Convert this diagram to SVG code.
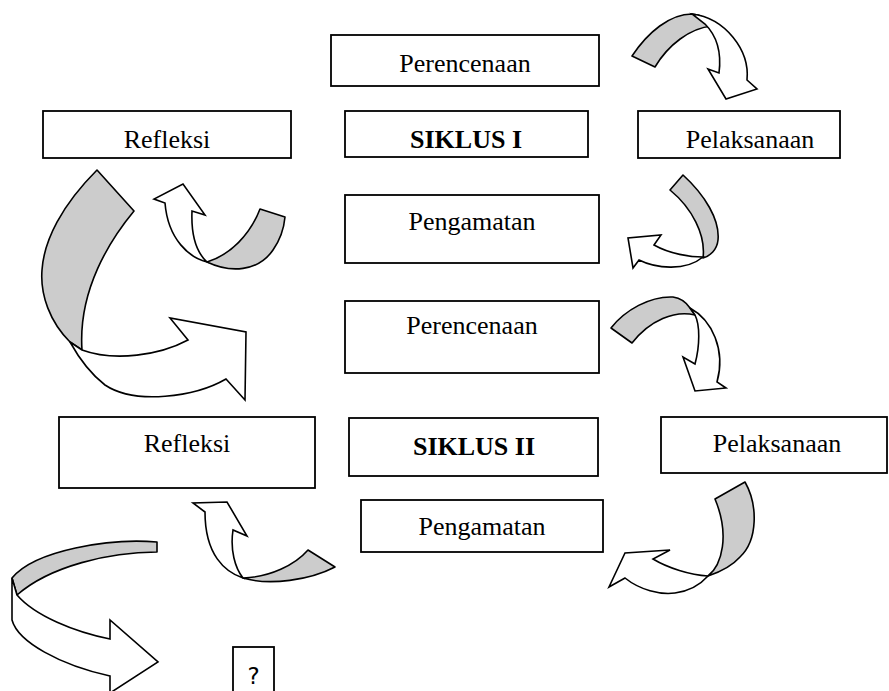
<svg xmlns="http://www.w3.org/2000/svg" width="889" height="691" viewBox="0 0 889 691">
<style>
.box rect{fill:#fff;stroke:#000;stroke-width:1.8}
.box text{font-family:"Liberation Serif","Times New Roman",serif;font-size:26px;text-anchor:middle;fill:#000}
.b{font-weight:bold}
.g{fill:#cccccc;stroke:#000;stroke-width:1.6;stroke-linejoin:round}
.w{fill:#fff;stroke:#000;stroke-width:1.6;stroke-linejoin:miter}
</style>
<rect width="889" height="691" fill="#fff"/>
<g id="connectors">
  <g id="arrowA">
    <path class="g" d="M632,56 C648,32 670,14 692,14 C702,15 709,20 712,26 C690,28 668,45 655,67 Z"/>
    <path class="w" d="M692,14 C725,18 750,50 747,80 L757,89 L726,99 L708,69 L719,73 C722,50 716,35 705,24 Z"/>
  </g>
  <g id="arrowB">
    <path class="g" d="M97,170 L134,211 C110,240 78,290 82,350 L70,342 C50,322 40,295 42,270 C44,240 62,205 97,170 Z"/>
    <path class="w" d="M82,350 C115,362 160,355 188,340 L170,318 L246,332 L245,400 L226,379 C195,397 135,405 105,385 C92,375 80,360 70,342 Z"/>
  </g>
  <g id="arrowC">
    <path class="g" d="M207,262 C230,273 258,272 273,250 C280,240 284,228 285,217 L260,209 C250,235 230,255 207,262 Z"/>
    <path class="w" d="M207,262 C190,258 168,240 165,203 L154,199 L183,184 L205,215 L192,211 C191,235 196,252 207,262 Z"/>
  </g>
  <g id="arrowD">
    <path class="g" d="M670,190 L683,175 C705,195 720,220 718,240 C717,250 710,256 703,258 C706,235 692,208 670,190 Z"/>
    <path class="w" d="M703,257 C690,257 670,254 654,245 L661,235 L628,238 L633,268 L639,260 C655,268 685,272 703,257 Z"/>
  </g>
  <g id="arrowE">
    <path class="g" d="M611,328 C625,310 650,296 673,297 C680,298 686,302 690,308 L695,315 C675,310 650,320 632,343 Z"/>
    <path class="w" d="M690,308 C712,320 726,350 717,382 L726,388 L695,391 L683,357 L695,364 C700,345 700,325 695,315 Z"/>
  </g>
  <g id="arrowF">
    <path class="g" d="M243,578 C270,586 310,580 335,567 L308,550 C295,565 270,577 243,578 Z"/>
    <path class="w" d="M243,578 C225,572 205,555 205,512 L193,503 L227,502 L247,536 L233,530 C230,550 235,568 243,578 Z"/>
  </g>
  <g id="arrowG">
    <path class="g" d="M715,499 L745,482 C758,505 758,540 740,557 C732,566 720,572 708,576 C722,565 730,535 715,499 Z"/>
    <path class="w" d="M708,576 C690,575 668,568 653,559 L670,550 L625,553 L609,587 L625,578 C640,590 660,595 675,593 C690,591 700,585 708,576 Z"/>
  </g>
  <g id="arrowH">
    <path class="g" d="M157,542 L157,552 C110,552 50,566 17,595 L12,578 C35,550 110,538 157,542 Z"/>
    <path class="w" d="M12,578 L12,620 C18,642 60,665 110,676 L110,693 L158,662 L110,620 L110,639 C75,632 35,616 17,595 Z"/>
  </g>
</g>
<g id="perencanaan1" class="box"><rect x="331" y="35" width="268" height="51"/><text x="465" y="72">Perencenaan</text></g>
<g id="refleksi1" class="box"><rect x="43" y="111" width="248" height="47"/><text x="167" y="148">Refleksi</text></g>
<g id="siklus1" class="box"><rect x="345" y="111" width="243" height="46"/><text class="b" x="466" y="148">SIKLUS I</text></g>
<g id="pelaksanaan1" class="box"><rect x="638" y="111" width="202" height="47"/><text x="750" y="148">Pelaksanaan</text></g>
<g id="pengamatan1" class="box"><rect x="345" y="195" width="254" height="68"/><text x="472" y="230">Pengamatan</text></g>
<g id="perencanaan2" class="box"><rect x="345" y="301" width="254" height="72"/><text x="472" y="334">Perencenaan</text></g>
<g id="refleksi2" class="box"><rect x="59" y="417" width="256" height="71"/><text x="187" y="452">Refleksi</text></g>
<g id="siklus2" class="box"><rect x="349" y="418" width="249" height="58"/><text class="b" x="474" y="455">SIKLUS II</text></g>
<g id="pelaksanaan2" class="box"><rect x="661" y="417" width="226" height="56"/><text x="777" y="452">Pelaksanaan</text></g>
<g id="pengamatan2" class="box"><rect x="361" y="500" width="242" height="52"/><text x="482" y="535">Pengamatan</text></g>
<g id="question" class="box"><rect x="233" y="647" width="41" height="50"/><text x="253.5" y="684" style="font-family:'DejaVu Sans','Liberation Sans',sans-serif;font-size:23px">?</text></g>
</svg>
